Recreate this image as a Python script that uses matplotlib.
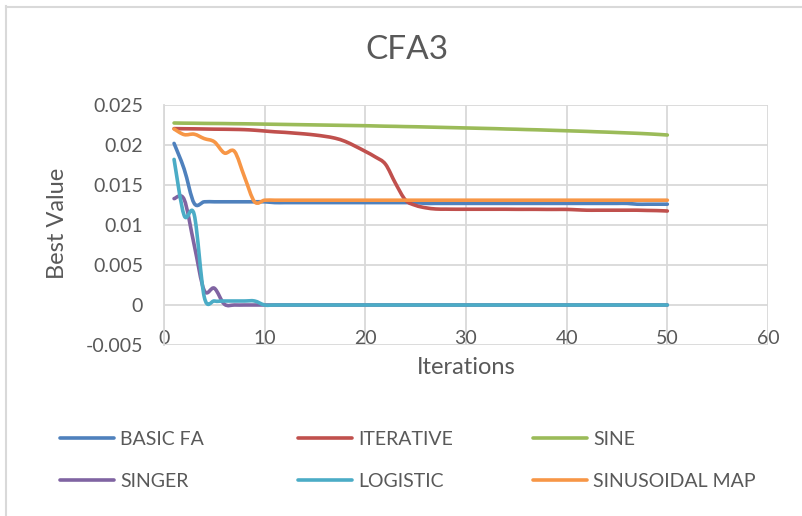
import matplotlib
matplotlib.use("Agg")
import matplotlib.pyplot as plt
from matplotlib.path import Path
from matplotlib.patches import PathPatch
from matplotlib.lines import Line2D

plt.rcParams['font.family'] = ['Lato', 'DejaVu Sans']

iterations = list(range(1, 51))

basic_fa = [0.0202, 0.0170, 0.0127, 0.0129, 0.0129, 0.0129, 0.0129, 0.0129, 0.0129, 0.0129,
            0.0128, 0.0128, 0.0128, 0.0128, 0.0128, 0.0128, 0.0128, 0.0128, 0.0128, 0.0128,
            0.0128, 0.0128, 0.0128, 0.0128, 0.0128, 0.0127, 0.0127, 0.0127, 0.0127, 0.0127,
            0.0127, 0.0127, 0.0127, 0.0127, 0.0127, 0.0127, 0.0127, 0.0127, 0.0127, 0.0127,
            0.0127, 0.0127, 0.0127, 0.0127, 0.0127, 0.0127, 0.0126, 0.0126, 0.0126, 0.0126]

iterative = [0.02205, 0.02203, 0.02202, 0.02200, 0.02198, 0.02197, 0.02195, 0.02192, 0.02185, 0.02175,
             0.02165, 0.02158, 0.02148, 0.02138, 0.02125, 0.02108, 0.02085, 0.02045, 0.01985, 0.01920,
             0.01850, 0.01760, 0.01520, 0.01310, 0.01245, 0.01215, 0.01200, 0.01198, 0.01197, 0.01197,
             0.01197, 0.01197, 0.01197, 0.01197, 0.01196, 0.01196, 0.01196, 0.01195, 0.01195, 0.01195,
             0.01190, 0.01185, 0.01185, 0.01185, 0.01185, 0.01185, 0.01185, 0.01182, 0.01180, 0.01175]

sine = [0.02275, 0.02273, 0.02272, 0.02270, 0.02269, 0.02268, 0.02266, 0.02265, 0.02263, 0.02261,
        0.02259, 0.02257, 0.02255, 0.02253, 0.02251, 0.02249, 0.02247, 0.02245, 0.02243, 0.02241,
        0.02238, 0.02235, 0.02233, 0.02230, 0.02228, 0.02225, 0.02222, 0.02219, 0.02216, 0.02213,
        0.02210, 0.02207, 0.02204, 0.02200, 0.02197, 0.02193, 0.02190, 0.02186, 0.02182, 0.02178,
        0.02174, 0.02170, 0.02165, 0.02161, 0.02156, 0.02151, 0.02146, 0.02140, 0.02133, 0.02125]

singer = [0.0133, 0.0132, 0.0075, 0.0018, 0.0021, 0.0001, 0.0000, 0.0000, 0.0000, 0.0000,
          0.0, 0.0, 0.0, 0.0, 0.0, 0.0, 0.0, 0.0, 0.0, 0.0,
          0.0, 0.0, 0.0, 0.0, 0.0, 0.0, 0.0, 0.0, 0.0, 0.0,
          0.0, 0.0, 0.0, 0.0, 0.0, 0.0, 0.0, 0.0, 0.0, 0.0,
          0.0, 0.0, 0.0, 0.0, 0.0, 0.0, 0.0, 0.0, 0.0, 0.0]

logistic = [0.0182, 0.0112, 0.0113, 0.0010, 0.0005, 0.0005, 0.0005, 0.0005, 0.0005, 0.0000,
            0.0, 0.0, 0.0, 0.0, 0.0, 0.0, 0.0, 0.0, 0.0, 0.0,
            0.0, 0.0, 0.0, 0.0, 0.0, 0.0, 0.0, 0.0, 0.0, 0.0,
            0.0, 0.0, 0.0, 0.0, 0.0, 0.0, 0.0, 0.0, 0.0, 0.0,
            0.0, 0.0, 0.0, 0.0, 0.0, 0.0, 0.0, 0.0, 0.0, 0.0]

sinusoidal = [0.0220, 0.0213, 0.02135, 0.0208, 0.0204, 0.0190, 0.0192, 0.0160, 0.0129, 0.0131,
              0.0131, 0.0131, 0.0131, 0.0131, 0.0131, 0.0131, 0.0131, 0.0131, 0.0131, 0.0131,
              0.0131, 0.0131, 0.0131, 0.0131, 0.0131, 0.0131, 0.0131, 0.0131, 0.0131, 0.0131,
              0.0131, 0.0131, 0.0131, 0.0131, 0.0131, 0.0131, 0.0131, 0.0131, 0.0131, 0.0131,
              0.0131, 0.0131, 0.0131, 0.0131, 0.0131, 0.0131, 0.0131, 0.0131, 0.0131, 0.0131]

series_names = ['BASIC FA', 'ITERATIVE', 'SINE', 'SINGER', 'LOGISTIC', 'SINUSOIDAL MAP']
series_values = [basic_fa, iterative, sine, singer, logistic, sinusoidal]
colors = ['#4F81BD', '#C0504D', '#9BBB59', '#8064A2', '#4BACC6', '#F79646']

x_ticks = [0, 10, 20, 30, 40, 50, 60]
y_ticks = [-0.005, 0, 0.005, 0.01, 0.015, 0.02, 0.025]
y_tick_labels = ['-0.005', '0', '0.005', '0.01', '0.015', '0.02', '0.025']


def smooth_path(xs, ys):
    verts = [(xs[0], ys[0])]
    codes = [Path.MOVETO]
    n = len(xs)
    for i in range(n - 1):
        a = i - 1 if i > 0 else i
        d = i + 2 if i + 2 < n else i + 1
        c1 = (xs[i] + (xs[i + 1] - xs[a]) / 6.0, ys[i] + (ys[i + 1] - ys[a]) / 6.0)
        c2 = (xs[i + 1] - (xs[d] - xs[i]) / 6.0, ys[i + 1] - (ys[d] - ys[i]) / 6.0)
        verts += [c1, c2, (xs[i + 1], ys[i + 1])]
        codes += [Path.CURVE4] * 3
    return Path(verts, codes)


W, H = 803, 516
fig = plt.figure(figsize=(W / 100, H / 100), dpi=100)
fig.patch.set_facecolor('white')

L, R, T, B = 164, 768, 105, 345
ax = fig.add_axes([L / W, 1 - B / H, (R - L) / W, (B - T) / H])

grid_c = '#D9D9D9'
text_c = '#595959'

ax.set_xlim(0, 60)
ax.set_ylim(-0.005, 0.025)
ax.set_xticks(x_ticks)
ax.set_yticks(y_ticks)
ax.set_yticklabels(y_tick_labels)
ax.grid(True, color=grid_c, lw=1.3, zorder=0)
ax.set_axisbelow(True)
for s in ['top', 'right', 'bottom']:
    ax.spines[s].set_visible(False)
ax.spines['left'].set_color(grid_c)
ax.spines['left'].set_linewidth(1.3)
ax.tick_params(axis='both', length=0, labelsize=14, labelcolor=text_c)
ax.tick_params(axis='y', pad=15)
ax.tick_params(axis='x', pad=-11)

handles = []
for name, vals, c in zip(series_names, series_values, colors):
    p = PathPatch(smooth_path(iterations, vals), fill=False, edgecolor=c, lw=2.6,
                  capstyle='round', joinstyle='round', zorder=3)
    ax.add_patch(p)
    handles.append(Line2D([], [], color=c, lw=2.6, solid_capstyle='round'))

fig.text(407 / W, 1 - 50 / H, 'CFA3', ha='center', va='center', fontsize=24, color=text_c)
fig.text(466 / W, 1 - 368 / H, 'Iterations', ha='center', va='center', fontsize=17, color=text_c)
fig.text(58 / W, 1 - 223 / H, 'Best Value', ha='center', va='center', rotation=90,
         fontsize=17, color=text_c)

col_x = [60, 298, 533]
for ci in range(3):
    hs = [handles[ci], handles[ci + 3]]
    ls = [series_names[ci], series_names[ci + 3]]
    leg = fig.legend(hs, ls, loc='center left', bbox_to_anchor=(col_x[ci] / W, 1 - 460.5 / H),
                     frameon=False, fontsize=14, handlelength=2.8, handletextpad=0.28,
                     labelspacing=1.3, borderpad=0, borderaxespad=0)
    for t in leg.get_texts():
        t.set_color(text_c)

# chart border (top and left visible)
fig.add_artist(Line2D([6.5 / W, 6.5 / W], [0, 1 - 6 / H], color=grid_c, lw=1.5))
fig.add_artist(Line2D([6 / W, 1], [1 - 6.5 / H, 1 - 6.5 / H], color=grid_c, lw=1.5))

fig.savefig('out.png', dpi=100)
